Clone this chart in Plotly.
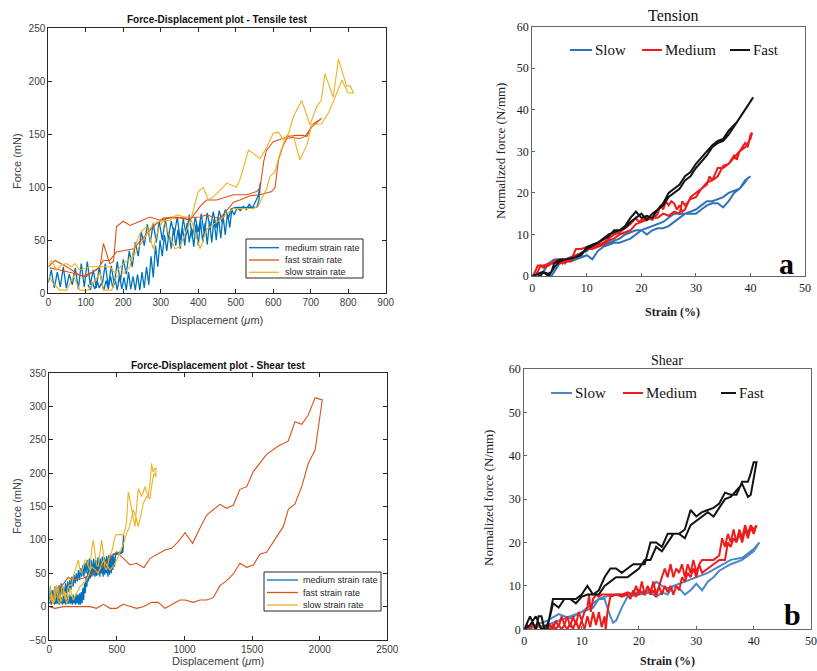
import plotly.graph_objects as go

W, H = 817, 671

# ---------------- data ----------------
TL_MEDIUM = [(0,10),(8,22),(16,5),(24,20),(32,6),(40,25),(48,5),(56,18),(64,8),(72,24),(80,4),(88,28),(96,6),(104,30),(112,8),(120,22),(128,5),(136,25),(144,8),(152,28),(160,6),(168,26),(176,8),(184,30),(192,10),(200,32),(208,18),(216,40),(224,25),(232,48),(240,35),(248,58),(256,45),(264,65),(272,48),(280,66),(288,48),(296,68),(304,50),(312,70),(320,52),(328,68),(336,55),(344,72),(352,50),(360,70),(368,55),(376,74),(384,52),(392,72),(400,58),(408,75),(416,56),(424,76),(432,60),(440,77),(448,62),(456,78),(464,66),(472,79),(480,70),(488,80),(496,74),(504,81),(512,78),(520,82),(528,79),(536,84),(544,80),(552,86),(560,92),(566,105),
             (562,88),(556,81),(540,81),(520,81),(500,81),(490,80),(484,62),(478,76),(472,55),(466,74),(460,52),(454,72),(448,50),(442,70),(436,48),(430,68),(424,46),(418,66),(412,48),(406,68),(400,45),(394,65),(388,44),(382,62),(376,48),(370,66),(364,45),(358,62),(352,42),(346,60),(340,45),(334,62),(328,42),(322,58),(316,40),(310,55),(304,35),(298,50),(292,25),(286,45),(280,15),(274,35),(268,8),(262,25),(256,5),(250,20),(244,3),(238,18),(232,3),(226,16),(220,4),(214,20),(208,3),(202,15),(196,4),(190,18),(184,3),(178,14),(172,5),(166,16),(160,4),(154,12),(148,3),(142,10),(136,5),(130,12),(124,4),(118,10),(112,3),(106,8)]
TL_FAST = [(0,25),(18,31),(49,25),(84,17),(102,16),(138,25),(147,47),(164,28),(174,30),(182,63),(200,68),(218,64),(245,68),(271,72),(298,69),(325,71),(351,71),(378,69),(405,82),(422,88),(449,88),(476,91),(494,93),(529,93),(556,96),(565,100),(575,125),(582,135),(600,143),(618,145),(640,148),(660,149),(680,149),(690,148),(703,159),(729,165),
           (703,157),(685,148),(671,146),(650,147),(636,146),(625,138),(614,126),(605,100),(596,96),(565,93),(538,92),(511,88),(494,86),(485,82),(458,71),(440,72),(422,74),(405,72),(369,71),(334,72),(307,71),(280,63),(253,52),(227,42),(182,39),(164,31),(147,31),(129,22),(93,16),(67,19),(31,22),(4,24)]
TL_SLOW = [(3,28),(9,31),(22,22),(36,27),(49,28),(62,25),(71,28),(84,22),(111,25),(138,25),(164,25),(178,19),(200,28),(227,35),(253,50),(280,66),(298,68),(325,69),(342,74),(365,72),(382,72),(400,96),(413,100),(427,88),(440,91),(458,97),(476,104),(494,101),(502,100),(511,107),(534,135),(547,132),(565,127),(583,138),(600,151),(614,152),(627,145),(640,150),(654,167),(676,182),(698,159),(716,176),(728,182),(738,207),(760,185),(774,221),(796,195),(805,196),(814,189),
           (800,189),(783,201),(765,185),(747,170),(729,160),(703,159),(690,140),(671,126),(654,148),(636,149),(618,132),(605,115),(591,110),(583,99),(574,93),(560,82),(547,80),(494,80),(476,75),(458,69),(440,65),(422,60),(405,42),(391,57),(382,69),(369,60),(351,44),(338,42),(320,57),(307,69),(293,60),(280,42),(262,63),(245,57),(227,41),(218,25),(200,19),(182,16),(169,3),(147,3),(138,19),(125,12),(107,3),(84,3),(67,16),(49,3),(31,3),(13,9),(3,16)]

BL_MEDIUM = [(0,10),(8,30),(16,5),(24,25),(32,10),(40,30),(48,8),(56,28),(64,12),(72,32),(80,15),(88,35),(96,18),(104,30),(112,15),(120,35),(128,20),(136,38),(144,22),(152,40),(160,25),(168,45),(176,30),(184,48),(192,35),(200,50),(208,38),(216,55),(224,40),(232,58),(240,45),(248,62),(256,45),(264,66),(272,50),(280,70),(288,48),(296,72),(304,50),(312,70),(320,48),(328,72),(336,52),(344,70),(352,50),(360,74),(368,55),(376,72),(384,55),(392,75),(400,58),(408,74),(416,60),(424,76),(432,60),(440,77),(448,64),(456,78),(464,68),(472,79),(480,78),(488,80),(496,80),(504,81),(512,80),(520,82),(528,81),(536,82),(544,90),(550,108),
             (545,82),(530,80),(500,79),(490,78),(482,60),(476,75),(470,55),(464,72),(458,50),(452,70),(446,48),(440,68),(434,45),(428,66),(422,50),(416,68),(410,48),(404,65),(398,45),(392,62),(386,50),(380,65),(374,45),(368,62),(362,48),(356,63),(350,46),(344,60),(338,45),(332,62),(326,47),(320,60),(314,45),(308,58),(302,42),(296,56),(290,38),(284,52),(278,30),(272,45),(266,20),(260,35),(254,10),(248,28),(242,5),(236,22),(230,3),(224,20),(218,3),(212,18),(206,5),(200,20),(194,3),(188,16),(182,5),(176,18),(170,3),(164,15),(158,5),(152,18),(146,4),(140,15),(134,5),(128,18),(122,3),(116,15),(110,5),(104,16),(98,3),(92,14),(86,5),(80,15),(74,3),(68,12),(62,5),(56,14),(50,4),(44,12),(38,3),(32,15),(26,5),(20,12),(14,3),(8,10),(0,5)]
BL_FAST = [(0,0),(42,-2.5),(104,0),(301,0),(350,-2.5),(400,3.5),(449,-2.5),(498,-2.5),(547,3.5),(646,-2.5),(695,0),(757,6.5),(806,6.5),(856,-2.5),(966,10),(1004,10),(1065,6.5),(1114,10),(1164,10),(1213,13.5),(1262,31.5),(1312,39),(1361,49),(1410,65),(1460,59),(1509,62.5),(1558,78.5),(1607,81.5),(1682,105),(1731,120),(1768,146),(1817,154),(1867,180),(1916,215),(1966,235),(1990,272.5),(2019,310),
           (1966,313.5),(1916,287.5),(1867,273.5),(1817,277.5),(1768,248.5),(1694,241),(1607,228.5),(1509,202.5),(1460,180),(1410,176),(1361,152.5),(1312,147.5),(1262,153.5),(1164,137.5),(1114,117.5),(1060,95),(1004,111),(954,97.5),(904,87.5),(856,85),(745,72.5),(700,58.5),(646,65),(597,62.5),(498,82.5),(424,67.5),(375,55),(301,47.5),(251,42.5),(165,41),(141,44),(79,27.5),(0,5)]
BL_SLOW = [(5,32),(18,8),(30,5),(42,30),(54,32),(66,8),(79,5),(92,28),(104,30),(116,12),(128,10),(140,30),(152,33),(165,32),(178,45),(190,55),(202,62),(215,70),(227,55),(239,50),(252,62),(264,70),(276,70),(288,60),(301,55),(313,85),(325,100),(337,80),(350,62),(362,60),(375,85),(387,100),(400,80),(412,58),(424,55),(436,65),(449,78),(461,82),(474,95),(486,105),(498,108),(510,108),(523,109),(535,108),(547,107),(560,115),(572,128),(578,150),(584,172),(596,160),(609,145),(621,130),(634,120),(646,150),(658,177),(670,172),(683,165),(695,172),(708,180),(720,172),(732,165),(745,185),(757,215),(764,205),(770,202),(780,208),(789,207),(789,195),
           (774,200),(760,185),(744,162),(720,165),(695,155),(680,140),(658,120),(640,135),(621,145),(605,130),(590,118),(572,110),(550,95),(523,82),(500,70),(475,62),(449,55),(425,62),(400,70),(380,60),(362,50),(340,55),(313,60),(295,50),(276,40),(252,35),(227,30),(215,25),(202,20),(190,15),(177,10),(165,20),(152,28),(140,10),(128,5),(116,20),(104,25),(92,8),(79,12),(66,28),(54,30),(42,10),(30,5),(18,20),(5,15)]

TR_SLOW = [(0,0),(1,0.5),(2,1),(3,3),(4,4),(5,4),(6,4),(7,4.5),(8,5),(9,5.5),(10,6),(11,7.5),(12,8),(13,7.5),(14,8),(15,8.5),(16,9),(17,10),(18,10.5),(19,11),(20,11),(21,11.5),(22,12),(23,12.5),(24,13),(25,14),(26,15),(27,15),(28,15),(29,15.5),(30,16),(31,17),(32,18),(33,18),(34,18.5),(35,19),(36,20),(37,20.5),(38,21),(39,23),(40,24),
           (39.5,23.5),(39,22.5),(38,21),(37,20),(36,18),(35,16.5),(34,17.5),(33,17.5),(32,17),(31,16),(30,15),(29,15),(28,15),(27,14),(26,13),(25,12),(24,11.5),(23,11.5),(22,11),(21,10),(20,11),(19,10),(18,9),(17,8.5),(16,8),(15,8),(14,7.5),(13,7),(12,6),(11,4),(10,5),(9,4.5),(8,4),(7,3.5),(6,3.5),(5,3),(4,1),(3.5,0),(3,0),(2,1),(1,0)]
TR_MEDIUM = [(0,0),(0.5,1),(1,2.5),(2,2.5),(3,3),(4,3),(5,3.5),(5.5,3),(6,4),(6.5,3.5),(7,4),(7.5,5),(8,6.5),(9,6.5),(10,7),(11,7),(12,7.5),(13,8),(14,9),(15,10),(16,10.5),(17,11.5),(18,12.5),(19,14),(19.5,13),(20,13.5),(21,14),(22,13.5),(23,15),(23.5,17),(24,16),(24.5,18),(25,17),(25.5,18),(26,17.5),(26.5,16),(27,17),(27.5,15.5),(28,16),(29,19),(30,20),(31,21),(32,22),(32.5,24),(33,23),(34,26),(35,26),(36,27),(37,29),(37.5,28),(38,30),(39,32),(39.5,31),(40,34),(40.3,34.5),
             (40,33),(39.5,32),(39,31),(38,30),(37,28.5),(36,27),(35,26.5),(34,24),(33,23),(32,22.5),(31,21),(30,19),(29,18.5),(28,17),(27.5,18),(27,15),(26,15.5),(25,14.5),(24,15),(23,14),(22,14),(21,13.5),(20,13),(19,12.5),(18,11),(17,10.5),(16,10),(15,9),(14,8.5),(13,7.5),(12,7),(11,6.5),(10,6.5),(9,5.5),(8,5),(7.5,4),(7,3.5),(6.5,4),(6,3),(5.5,4),(5,3),(4.5,4),(4,3.5),(3,2.5),(2,2),(1.5,2.5),(1,1),(0.5,0)]
TR_FAST = [(0,0),(1,0.5),(2,1),(3,0),(4,2),(5,3.5),(6,4),(8,4.5),(9,5.5),(10,6.5),(12,8),(14,9.5),(15,11),(16,11),(17,12),(18,14),(19,15.5),(20,14),(21,14.5),(22,14),(23,16),(24,17),(25,19),(26,20),(27,21),(28,23),(29,24),(30,26),(31,27.5),(32,29),(33,31),(34,32),(35,32.5),(36,34),(37,36),(38,38),(39,40),(40,42),(40.5,43),
           (39.5,41),(38.5,39),(37.5,37),(36,35),(35,33),(34,32.5),(33,31.5),(32,30),(31,28.5),(30,27),(29,25),(28,24),(27,22),(26,21),(25,20),(24,17.5),(23,16),(22,15),(21,13.5),(20,15),(19,14),(18,13),(17,11.5),(16,11),(15,10.5),(14,10),(12,8),(10,7),(9,5),(8,4.5),(6,4),(5,4),(4,3),(3.5,1),(3,0.5),(2,1),(1.5,0),(1,0)]

BR_SLOW = [(0,0),(2,1),(4,2),(6,3.5),(8,2.5),(10,4),(11,5),(12,6),(13,7),(14,7.5),(16,8),(18,8),(20,8.5),(22,9),(23,11),(24,10),(25,9.5),(26,10),(28,11),(30,12),(32,13),(34,14.5),(36,16),(38,16.5),(40,18.5),(41,20),
           (40,18),(38,16),(36,15),(34,13.5),(33,12),(32,11),(31,9),(30,10.5),(29,9),(28,8),(27,9.5),(26,10),(25,8),(24,8.5),(23,7.5),(22,8.5),(20,8),(18,7.5),(17,5),(16,2),(15.5,1.5),(15,3),(14,7),(13,7),(12,5),(10,4),(8,3),(6,2),(4,1),(2,0.5),(0,0)]
BR_MEDIUM = [(0,0),(0.5,1),(1,0),(1.5,1.5),(2,0),(2.5,1),(3,0),(3.5,0.5),(4,0),(4.5,1),(5,0),(5.5,2),(6,0.5),(6.5,3),(7,1),(7.5,3),(8,0.5),(8.5,3),(9,1),(9.5,4),(10,2),(10.5,4),(11,5),(11.3,8),(11.6,4),(12,7),(12.5,8),(13,7.5),(13.5,8),(14,8),(15,8),(16,8),(17,8),(18,8.5),(19,8),(19.5,10),(20,8),(20.5,11),(21,8),(21.5,10),(22,8.5),(22.5,11),(23,8),(23.5,10),(24,12),(24.5,14),(25,12),(25.5,15),(26,12),(26.5,14),(27,13),(27.5,15),(28,12),(28.5,15),(29,13),(29.5,16),(30,13),(30.5,15),(31,16),(32,16),(33,16),(34,17),(34.5,21),(35,19),(35.5,22),(36,20),(36.5,23),(37,20),(37.5,23),(38,21),(38.5,24),(39,22),(39.5,24),(40,23),(40.5,24),
             (40,22),(39.5,23.5),(39,21),(38.5,23),(38,20),(37.5,22),(37,20),(36.5,21),(36,19),(35.5,20),(35,16),(34,16),(33,15),(32,14),(31,13),(30.5,15),(30,12),(29.5,14),(29,12),(28.5,13),(28,11),(27.5,12),(27,9),(26.5,10),(26,8),(25.5,10),(25,8.5),(24.5,10),(24,8),(23.5,10),(23,7.5),(22.5,9),(22,8),(21.5,10),(21,8),(20,9),(19.5,7.5),(19,9),(18.5,7),(18,8),(17,7.5),(16,8),(15,7.5),(14.5,4),(14.2,0),(14,3),(13.5,0.5),(13,4),(12.5,1),(12,4),(11.5,0.5),(11,3),(10.5,0),(10,2),(9.5,0),(9,2),(8.5,0),(8,1.5),(7.5,0),(7,1),(6.5,0),(6,1),(5.5,0),(5,1),(4.5,0),(4,0.5)]
BR_FAST = [(0,0),(1,3),(2,0),(2.5,3),(3,3),(3.5,0),(4,0),(5,7),(6,7),(8,7),(9,7),(10,8),(11,10),(12,8),(13,9),(14,12),(15,14),(16,14),(17,13),(18,14),(19,15),(20,15),(21,15),(22,20),(23,20),(24,19),(25,22),(26,22),(27,22),(28,23),(29,27.5),(30,26),(31,27),(32,27.5),(33,28),(34,29),(35,31.5),(36,31),(37,31),(38,34),(39,34),(39.5,36),(40,38.5),(40.5,38.5),
           (39.5,31),(39,30.5),(38,33.5),(37,32),(36,30.5),(35,30),(34,28),(33,26),(32,27),(31,26),(30,25),(29,24),(28,21),(27,22),(26,22),(25,20),(24,18),(23,19),(22,16),(21,16),(20,14),(19,13),(18,12),(17,12),(16,12),(15,11),(14,10),(13,8),(12,8),(11,8),(10,7.5),(9,6),(8,7),(7,7),(6,5),(5,6),(4.5,3),(4,1),(3,0),(2,3),(1,1),(0,0)]

LEFT_NAMES = ["medium strain rate", "fast strain rate", "slow strain rate"]
RIGHT_NAMES = ["Slow", "Medium", "Fast"]
TL_TITLE = "Force-Displacement plot - Tensile test"
BL_TITLE = "Force-Displacement plot - Shear test"

# ---------------- styling ----------------
M_BLUE, M_RED, M_YEL = "#0072BD", "#D95319", "#EDB120"
R_BLUE, R_BLUE2, R_RED, R_BLACK = "#2F72BA", "#4A88C7", "#F01B1B", "#141414"
SANS = "Liberation Sans, Arial, sans-serif"
SERIF = "Liberation Serif, Times New Roman, serif"


def px(x):
    return x / W


def py(y):
    return 1 - y / H


def xs(d):
    return [p[0] for p in d]


def ys(d):
    return [p[1] for p in d]


fig = go.Figure()


def add(d, name, color, width, xa, ya):
    fig.add_trace(go.Scatter(x=xs(d), y=ys(d), mode="lines", name=name,
                             line=dict(color=color, width=width),
                             xaxis=xa, yaxis=ya, showlegend=False))


add(TL_MEDIUM, LEFT_NAMES[0], M_BLUE, 1.3, "x", "y")
add(TL_FAST, LEFT_NAMES[1], M_RED, 1.1, "x", "y")
add(TL_SLOW, LEFT_NAMES[2], M_YEL, 1.1, "x", "y")
add(BL_MEDIUM, LEFT_NAMES[0], M_BLUE, 1.3, "x2", "y2")
add(BL_FAST, LEFT_NAMES[1], M_RED, 1.1, "x2", "y2")
add(BL_SLOW, LEFT_NAMES[2], M_YEL, 1.1, "x2", "y2")
add(TR_SLOW, RIGHT_NAMES[0], R_BLUE, 2, "x3", "y3")
add(TR_MEDIUM, RIGHT_NAMES[1], R_RED, 2, "x3", "y3")
add(TR_FAST, RIGHT_NAMES[2], R_BLACK, 2, "x3", "y3")
add(BR_SLOW, RIGHT_NAMES[0], R_BLUE2, 2, "x4", "y4")
add(BR_MEDIUM, RIGHT_NAMES[1], R_RED, 2, "x4", "y4")
add(BR_FAST, RIGHT_NAMES[2], R_BLACK, 2, "x4", "y4")

left_ax = dict(showline=True, linecolor="#262626", linewidth=1, mirror="ticks",
               ticks="inside", ticklen=4, tickcolor="#262626", showgrid=False,
               zeroline=False, automargin=False,
               tickfont=dict(family=SANS, size=10, color="#404040"))
right_ax = dict(showline=True, linecolor="#666666", linewidth=1.3, mirror=True,
                ticks="inside", ticklen=3, tickcolor="#666666", showgrid=False,
                zeroline=False, automargin=False,
                tickfont=dict(family=SERIF, size=12, color="#1a1a1a"))

fig.update_layout(
    width=W, height=H, autosize=False,
    margin=dict(l=0, r=0, t=0, b=0, pad=0, autoexpand=False),
    paper_bgcolor="white", plot_bgcolor="white", showlegend=False,
    xaxis=dict(domain=[px(48.3), px(385.7)], anchor="y", range=[0, 900], dtick=100, **left_ax),
    yaxis=dict(domain=[py(293.3), py(28.3)], anchor="x", range=[0, 250], dtick=50, **left_ax),
    xaxis2=dict(domain=[px(49.3), px(387.3)], anchor="y2", range=[0, 2500], dtick=500, **left_ax),
    yaxis2=dict(domain=[py(640), py(373.3)], anchor="x2", range=[-50, 350], dtick=50, **left_ax),
    xaxis3=dict(domain=[px(532.3), px(805)], anchor="y3", range=[0, 50], dtick=10, **right_ax),
    yaxis3=dict(domain=[py(276), py(26.7)], anchor="x3", range=[0, 60], dtick=10, **right_ax),
    xaxis4=dict(domain=[px(524.3), px(811)], anchor="y4", range=[0, 50], dtick=10, **right_ax),
    yaxis4=dict(domain=[py(629.3), py(369)], anchor="x4", range=[0, 60], dtick=10, **right_ax),
)


def note(text, x, y, size, family, color="#262626", bold=False, angle=0, anchor="center"):
    if bold:
        text = "<b>" + text + "</b>"
    fig.add_annotation(text=text, x=px(x), y=py(y), xref="paper", yref="paper",
                       xanchor=anchor, yanchor="middle", showarrow=False,
                       textangle=angle, font=dict(family=family, size=size, color=color))


def seg(x0, x1, y, color, width):
    fig.add_shape(type="line", xref="paper", yref="paper",
                  x0=px(x0), x1=px(x1), y0=py(y), y1=py(y),
                  line=dict(color=color, width=width))


def box(x0, y0, x1, y1):
    fig.add_shape(type="rect", xref="paper", yref="paper",
                  x0=px(x0), x1=px(x1), y0=py(y1), y1=py(y0),
                  line=dict(color="#262626", width=1), fillcolor="white", layer="above")


# left legends (drawn like the MATLAB boxes)
LEFT_COLORS = [M_BLUE, M_RED, M_YEL]
box(246, 239, 363, 278)
for i, (nm, c) in enumerate(zip(LEFT_NAMES, LEFT_COLORS)):
    yy = 247.7 + i * 12.3
    seg(249, 279, yy, c, 1.3)
    note(nm, 283, yy, 9, SANS, "#262626", anchor="left")
box(264, 572, 381, 611)
for i, (nm, c) in enumerate(zip(LEFT_NAMES, LEFT_COLORS)):
    yy = 580 + i * 12.5
    seg(267, 298, yy, c, 1.3)
    note(nm, 301, yy, 9, SANS, "#262626", anchor="left")

# right legends
for (x0, x1), nm, c in zip([(570, 592), (642, 662), (730, 750)], RIGHT_NAMES, [R_BLUE, R_RED, R_BLACK]):
    seg(x0, x1, 50, c, 2)
    note(nm, x1 + 1, 50, 15, SERIF, "#111", anchor="left")
for (x0, x1), nm, c in zip([(551, 572), (623, 643), (721, 736)], RIGHT_NAMES, [R_BLUE2, R_RED, R_BLACK]):
    seg(x0, x1, 393, c, 2)
    note(nm, x1 + 1, 393, 15, SERIF, "#111", anchor="left")

# left titles and axis labels
note(TL_TITLE, 217, 20, 10, SANS, "#111", bold=True)
note("Displacement (<i>μ</i>m)", 217, 320, 11, SANS, "#404040")
note("Force (mN)", 17, 161, 11, SANS, "#404040", angle=-90)
note(BL_TITLE, 218, 365, 10, SANS, "#111", bold=True)
note("Displacement (<i>μ</i>m)", 218, 661, 11, SANS, "#404040")
note("Force (mN)", 17, 506, 11, SANS, "#404040", angle=-90)

# right titles and axis labels
note("Tension", 673, 15, 16, SERIF, "#111")
note("Strain (%)", 672, 312, 12, SERIF, "#222", bold=True)
note("Normalized force (N/mm)", 500, 151, 13, SERIF, "#222", angle=-90)
note("a", 786, 263, 30, SERIF, "#000", bold=True)
note("Shear", 667, 360, 14, SERIF, "#111")
note("Strain (%)", 667, 661, 12, SERIF, "#222", bold=True)
note("Normalized force (N/mm)", 489, 498, 13, SERIF, "#222", angle=-90)
note("b", 792, 614, 30, SERIF, "#000", bold=True)

fig.write_html("out.html", config={"displayModeBar": False},
               post_script="document.body.style.margin='0px';document.body.style.padding='0px';document.body.style.overflow='hidden';")
